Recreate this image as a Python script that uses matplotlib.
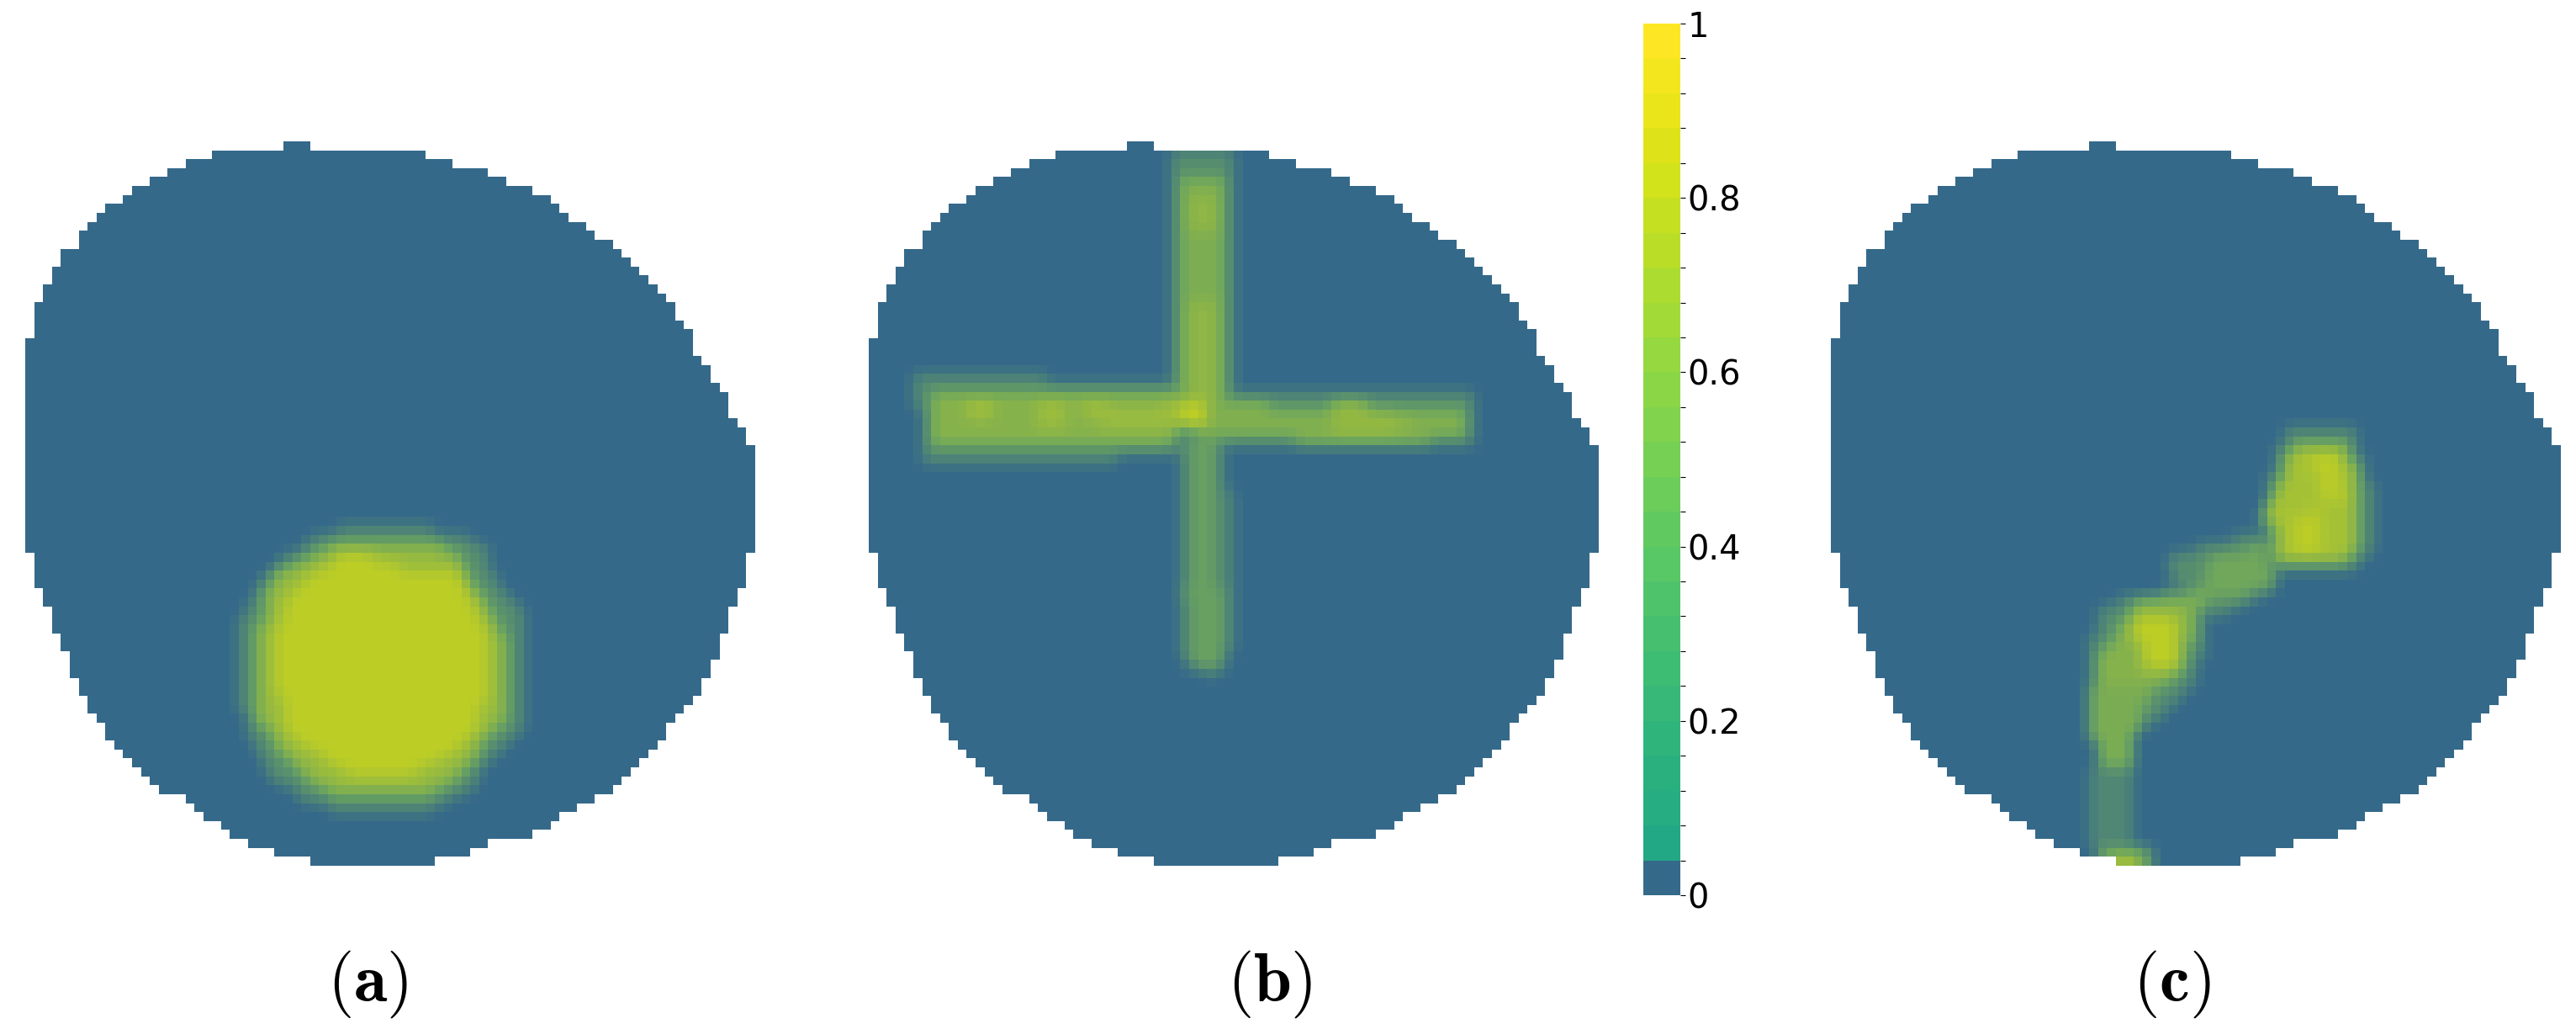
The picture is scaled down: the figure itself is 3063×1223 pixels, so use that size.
import numpy as np
import matplotlib
matplotlib.use("Agg")
import matplotlib.pyplot as plt
from matplotlib.colors import LinearSegmentedColormap, ListedColormap, BoundaryNorm
from matplotlib.cm import ScalarMappable
from matplotlib.path import Path

W, H = 3063, 1223
N_COLS, N_ROWS = 82, 81
BLUE = "#35698a"
MID = "#6ea65e"
OLIVE = "#bccd26"

# Domain outline: (row lower edge, column edge) in 1568-scale crop units
LEFT_STEPS = [(46,556),(64,416),(81,363),(97,328),(114,295),(132,258),(149,243),(165,208),(181,190),(198,172),
              (232,155),(249,137),(282,119),(315,102),(349,84),(415,68),(833,50),(899,68),(948,84),(999,102),
              (1032,119),(1082,137),(1117,155),(1150,172),(1167,190),(1201,208),(1216,223),(1236,243),(1252,258),
              (1268,277),(1285,295),(1302,311),(1318,347),(1335,363),(1351,381),(1368,398),(1385,434),(1401,451),
              (1418,487),(1435,538),(1451,609)]
RIGHT_STEPS = [(46,607),(64,835),(81,887),(97,956),(114,992),(132,1045),(149,1080),(165,1096),(181,1114),(198,1149),
               (215,1167),(249,1201),(265,1220),(282,1236),(298,1254),(315,1272),(332,1288),(349,1306),(381,1322),
               (398,1340),(447,1358),(465,1376),(498,1393),(515,1411),(566,1428),(600,1446),(632,1462),(833,1481),
               (899,1462),(948,1446),(999,1428),(1050,1411),(1082,1393),(1117,1376),(1133,1358),(1150,1340),
               (1168,1322),(1201,1306),(1216,1288),(1236,1272),(1252,1254),(1268,1236),(1285,1220),(1302,1201),
               (1318,1185),(1335,1167),(1351,1132),(1368,1096),(1385,1080),(1401,1045),(1418,956),(1435,921),(1451,853)]

# Field regions: (level, outline in crop units)
DISC_A = [
    (0.3, [(690,785),(830,785),(945,815),(975,900),(1030,960),(1035,1130),(1020,1190),(960,1250),(915,1310),(850,1340),
           (660,1340),(590,1320),(530,1270),(490,1200),(465,1120),(465,980),(500,910),(535,860),(610,810)]),
    (0.75, [(680,815),(830,815),(905,845),(925,900),(975,970),(1000,1060),(985,1170),(940,1220),(900,1280),(830,1318),
            (680,1318),(610,1290),(560,1240),(510,1160),(500,1060),(515,960),(540,880),(610,840)]),
    (1.0, [(700,830),(770,860),(900,880),(940,960),(960,1000),(945,1170),(905,1220),(800,1280),(680,1275),(625,1230),
           (570,1200),(540,1100),(540,990),(570,920),(640,860)]),
]
CROSS_B = [
    (0.3, [(610,46),(740,46),(740,515),(610,515)]),
    (0.6, [(635,100),(718,100),(718,530),(635,530)]),
    (0.72, [(652,130),(700,130),(700,200),(652,200)]),
    (0.72, [(652,340),(700,340),(700,530),(652,530)]),
    (0.25, [(630,610),(725,610),(740,1020),(700,1085),(625,1040)]),
    (0.45, [(650,600),(705,600),(705,900),(650,900)]),
    (0.45, [(640,900),(715,900),(715,1060),(650,1075)]),
    (0.28, [(110,490),(640,500),(640,640),(400,665),(130,665)]),
    (0.66, [(140,515),(640,525),(640,615),(400,635),(150,635)]),
    (0.82, [(215,530),(270,530),(270,565),(215,565)]),
    (0.8, [(350,535),(405,535),(405,585),(350,585)]),
    (0.8, [(440,535),(490,535),(490,565),(440,565)]),
    (0.8, [(475,555),(640,545),(640,590),(475,595)]),
    (1.0, [(630,535),(690,535),(690,590),(630,590)]),
    (0.3, [(700,515),(1215,515),(1215,630),(700,625)]),
    (0.62, [(685,545),(930,550),(1195,550),(1195,615),(930,625),(685,600)]),
    (0.74, [(930,540),(1030,550),(1105,590),(1000,610),(930,600)]),
]
BLOBS_C = [
    (0.3, [(975,595),(1110,595),(1145,690),(1145,840),(1090,880),(940,880),(920,760),(945,660)]),
    (0.85, [(990,620),(1098,620),(1120,700),(1120,825),(1075,862),(945,862),(940,745),(965,680)]),
    (1.0, [(1030,650),(1085,650),(1090,730),(1040,740)]),
    (1.0, [(985,765),(1045,755),(1045,830),(985,835)]),
    (0.3, [(720,850),(920,790),(960,900),(830,960),(760,930)]),
    (0.52, [(800,850),(930,820),(950,900),(830,930),(800,925)]),
    (0.28, [(590,940),(800,895),(810,1000),(770,1110),(680,1180),(560,1180),(560,1050)]),
    (0.66, [(660,925),(800,915),(775,1010),(750,1090),(590,1100),(590,1030),(640,965)]),
    (1.0, [(655,960),(750,960),(750,1065),(680,1065)]),
    (0.58, [(565,1095),(700,1095),(670,1170),(650,1265),(590,1265),(565,1180)]),
    (0.24, [(570,1265),(665,1265),(665,1415),(570,1415)]),
    (0.55, [(580,1420),(700,1420),(700,1451),(580,1451)]),
    (0.95, [(620,1432),(660,1432),(660,1451),(620,1451)]),
]
# crop units -> cells: (x offset, x units per cell)
FRAME_A = (50, 17.45)
FRAME_B = (22, 17.45)
FRAME_C = (30, 18.42)
ROW_ZERO, ROW_SIZE = 30, 17.54

PANELS = [(30, DISC_A, FRAME_A), (1033, CROSS_B, FRAME_B), (2177, BLOBS_C, FRAME_C)]
PANEL_LABELS = ["a", "b", "c"]
PANEL_LABEL_X = [437, 1510, 2582]
LABEL_Y = 1170
PANEL_TOP, PANEL_BOTTOM, PANEL_WIDTH = 168, 1029, 868

CBAR_LEVELS = np.linspace(0, 1, 26)
CBAR_LABELS = {0: "0", 5: "0.2", 10: "0.4", 15: "0.6", 20: "0.8", 25: "1"}


def build_mask():
    mask = np.zeros((N_ROWS, N_COLS), bool)
    for r in range(N_ROWS):
        y = ROW_ZERO + (r + 0.5) * ROW_SIZE
        left = next((v for e, v in LEFT_STEPS if y < e), LEFT_STEPS[-1][1])
        right = next((v for e, v in RIGHT_STEPS if y < e), RIGHT_STEPS[-1][1])
        c0 = int(round((left - 50) / 17.45))
        c1 = int(round((right - 50) / 17.45))
        mask[r, c0:c1] = True
    return mask


def smooth(a):
    k = np.array([1, 2, 1]) / 4
    p = np.pad(a, 1, mode="edge")
    p = np.apply_along_axis(lambda v: np.convolve(v, k, mode="same"), 0, p)
    p = np.apply_along_axis(lambda v: np.convolve(v, k, mode="same"), 1, p)
    return p[1:-1, 1:-1]


def build_field(regions, frame):
    x0, dx = frame
    cc, rr = np.meshgrid(np.arange(N_COLS) + 0.5, np.arange(N_ROWS) + 0.5)
    pts = np.c_[cc.ravel(), rr.ravel()]
    f = np.zeros((N_ROWS, N_COLS))
    for level, poly in regions:
        verts = [((x - x0) / dx, (y - ROW_ZERO) / ROW_SIZE) for x, y in poly]
        inside = Path(verts).contains_points(pts).reshape(f.shape)
        f[inside] = np.maximum(f[inside], level)
    return smooth(f)


plt.rcParams["mathtext.fontset"] = "cm"
fig = plt.figure(figsize=(W / 100, H / 100), dpi=100, facecolor="white")
cmap = LinearSegmentedColormap.from_list("field", [BLUE, MID, OLIVE])
mask = build_mask()

for x_left, regions, frame in PANELS:
    ax = fig.add_axes([x_left / W, 1 - PANEL_BOTTOM / H, PANEL_WIDTH / W, (PANEL_BOTTOM - PANEL_TOP) / H])
    field = np.ma.masked_where(~mask, build_field(regions, frame))
    ax.imshow(field, cmap=cmap, vmin=0, vmax=1, interpolation="nearest", aspect="auto")
    ax.axis("off")

for name, x in zip(PANEL_LABELS, PANEL_LABEL_X):
    fig.text(x / W, 1 - LABEL_Y / H, r"$(\mathbf{%s})$" % name, fontsize=58, ha="center", va="center")

viridis = matplotlib.colormaps["viridis"]
seg = [BLUE] + [viridis(0.6 + 0.4 * i / 23) for i in range(24)]
cax = fig.add_axes([1954 / W, 1 - 1064 / H, 44 / W, (1064 - 28) / H])
cb = fig.colorbar(ScalarMappable(norm=BoundaryNorm(CBAR_LEVELS, 25), cmap=ListedColormap(seg)), cax=cax,
                  spacing="proportional", drawedges=False)
cb.set_ticks(CBAR_LEVELS, labels=[CBAR_LABELS.get(i, "") for i in range(26)])
cb.ax.tick_params(length=4, width=0.8, pad=2, labelsize=28.8, which="major")
cb.ax.minorticks_off()
cb.outline.set_visible(False)

fig.savefig("out.png", dpi=100, facecolor="white")
